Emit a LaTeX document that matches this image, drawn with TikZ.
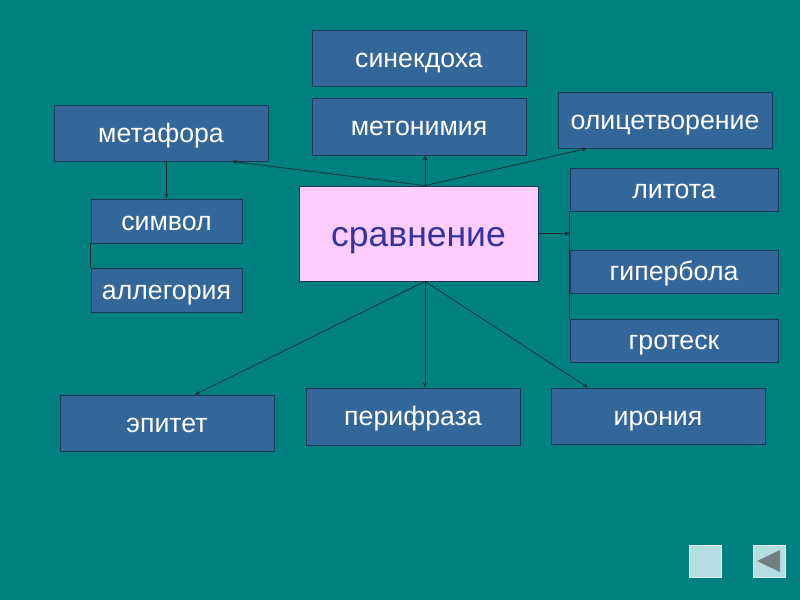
\documentclass[tikz,border=0pt]{standalone}
\usepackage{fontspec}
\setmainfont{Liberation Sans}
\usetikzlibrary{arrows.meta}
\definecolor{bgteal}{RGB}{0,128,128}
\definecolor{boxblue}{RGB}{51,102,153}
\definecolor{boxline}{RGB}{28,58,88}
\definecolor{pinkbox}{RGB}{255,204,255}
\definecolor{cmptext}{RGB}{51,51,153}
\definecolor{lineclr}{RGB}{18,42,48}
\definecolor{btnfill}{RGB}{182,222,226}
\definecolor{btntri}{RGB}{112,128,128}
\tikzset{
	term/.style={draw=boxline, fill=boxblue, text=white, line width=0.8pt, inner sep=0pt,
		font=\fontsize{26.7}{30}\selectfont, text height=18pt, text depth=0pt,
		minimum width=214pt, minimum height=56pt},
	small/.style={term, minimum width=151pt, minimum height=44pt},
	rterm/.style={term, minimum width=208pt, minimum height=43pt},
	link/.style={draw=lineclr, line width=0.7pt},
	arr/.style={link, -{Stealth[length=5pt,width=4pt]}},
	btn/.style={draw=white!60!btnfill, fill=btnfill, line width=0.6pt, minimum size=32pt, inner sep=0pt}
}
\begin{document}
\begin{tikzpicture}[x=1pt, y=-1pt]
	\useasboundingbox (0,0) rectangle (800,600);
	\fill[bgteal] (0,0) rectangle (800,600);
	\node[term] (sinek) at (419,58) {синекдоха};
	\node[term, minimum height=57pt] (meton) at (419,126.5) {метонимия};
	\node[term] (metaf) at (161,133) {метафора};
	\node[term] (olic) at (665,120) {олицетворение};
	\node[small] (simv) at (166.5,221) {символ};
	\node[small] (alleg) at (166.5,290) {аллегория};
	\node[draw=boxline, fill=pinkbox, text=cmptext, line width=0.8pt, inner sep=0pt,
		text height=25pt, text depth=0pt,
		minimum width=239pt, minimum height=95pt, font=\fontsize{35.5}{40}\selectfont]
		(cmp) at (418.5,233.5) {сравнение};
	\node[rterm] (lit) at (674,189.5) {литота};
	\node[rterm] (giper) at (674,271.5) {гипербола};
	\node[rterm] (grot) at (674,340.5) {гротеск};
	\node[term] (epit) at (167,423) {эпитет};
	\node[term, minimum height=57pt] (perif) at (413,416.5) {перифраза};
	\node[term] (iron) at (658,416) {ирония};
	\coordinate (cmpT) at ([xshift=6.5pt]cmp.north);
	\coordinate (cmpB) at ([xshift=6.5pt]cmp.south);
	\coordinate (rbar) at (lit.south west |- cmp.east);
	\draw[arr] (cmpT) -- (cmpT |- meton.south);
	\draw[arr] (cmpT) -- ([xshift=71pt]metaf.south);
	\draw[arr] (cmpT) -- ([xshift=-78pt]olic.south);
	\draw[arr] (simv.north |- metaf.south) -- (simv.north);
	\draw[link] (simv.south west) -- (alleg.north west);
	\draw[arr] (cmp.east) -- (rbar);
	\draw[link] (lit.south west) -- (grot.north west);
	\draw[arr] (cmpB) -- ([xshift=28pt]epit.north);
	\draw[arr] (cmpB) -- (cmpB |- perif.north);
	\draw[arr] (cmpB) -- ([xshift=-70pt]iron.north);
	\node[btn] (stopbtn) at (705,561) {};
	\node[btn] (backbtn) at (769,561) {};
	\fill[btntri] ([xshift=-12pt]backbtn.center) -- ([xshift=11pt,yshift=11pt]backbtn.center) -- ([xshift=11pt,yshift=-11pt]backbtn.center) -- cycle;
\end{tikzpicture}
\end{document}
